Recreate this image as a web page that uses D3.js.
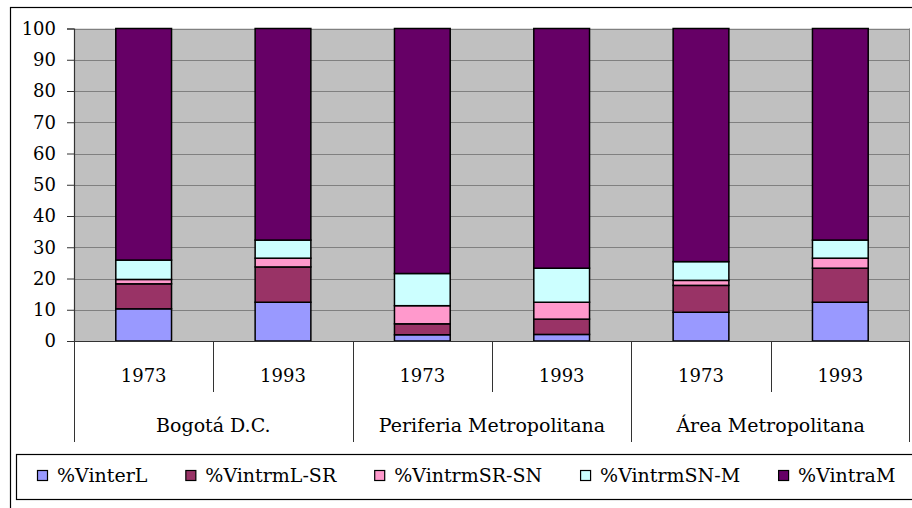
<!DOCTYPE html>
<html>
<head>
<meta charset="utf-8">
<script src="https://cdn.jsdelivr.net/npm/d3@7"></script>
<style>
  html, body { margin: 0; padding: 0; background: #ffffff; }
  svg { display: block; }
  text { font-family: "DejaVu Serif", "Liberation Serif", serif; fill: #000; }
</style>
</head>
<body>
<svg id="chart" width="912" height="508"></svg>
<script>
// Zones and census years
const groups = ["Bogotá D.C.", "Periferia Metropolitana", "Área Metropolitana"];
const years = ["1973", "1993"];

// Series names (legend order = stacking order, bottom to top)
const seriesNames = ["%VinterL", "%VintrmL-SR", "%VintrmSR-SN", "%VintrmSN-M", "%VintraM"];

// Percentages per bar: Bogotá 1973, 1993, Periferia 1973, 1993, Área 1973, 1993
const vinterL    = [10.3, 12.4,  2.0,  2.1,  9.2, 12.4];
const vintrmLSR  = [ 8.0, 11.3,  3.5,  4.9,  8.6, 10.9];
const vintrmSRSN = [ 1.4,  2.8,  5.8,  5.4,  1.6,  3.2];
const vintrmSNM  = [ 6.2,  5.8, 10.3, 10.9,  6.0,  5.8];
const vintraM    = [74.1, 67.7, 78.4, 76.7, 74.6, 67.7];

const yTicks = [0, 10, 20, 30, 40, 50, 60, 70, 80, 90, 100];

const colors = ["#9999ff", "#993366", "#ff99cc", "#ccffff", "#660066"];

// Build rows for the stack layout
const seriesValues = [vinterL, vintrmLSR, vintrmSRSN, vintrmSNM, vintraM];
const rows = [];
groups.forEach((g, gi) => {
  years.forEach((yr, yi) => {
    const idx = gi * years.length + yi;
    const row = { key: g + "|" + yr, group: g, year: yr };
    seriesNames.forEach((s, si) => { row[s] = seriesValues[si][idx]; });
    rows.push(row);
  });
});

const svg = d3.select("#chart");
const plot = { left: 74, right: 910, top: 28.5, bottom: 341 };

// Outer chart frame
svg.append("rect")
  .attr("x", 10.5).attr("y", 7.5)
  .attr("width", 960).attr("height", 560)
  .attr("fill", "#fff").attr("stroke", "#000").attr("stroke-width", 1.2);

const x = d3.scaleBand()
  .domain(rows.map(d => d.key))
  .range([plot.left, plot.right])
  .paddingInner(0.6)
  .paddingOuter(0.3);

const y = d3.scaleLinear().domain([0, 100]).range([plot.bottom, plot.top]);

// Plot area background
svg.append("rect")
  .attr("x", plot.left).attr("y", plot.top)
  .attr("width", plot.right - plot.left).attr("height", plot.bottom - plot.top)
  .attr("fill", "#c0c0c0");

// Gridlines
svg.append("g")
  .selectAll("line")
  .data(yTicks.filter(t => t > 0))
  .join("line")
  .attr("x1", plot.left).attr("x2", plot.right)
  .attr("y1", d => Math.round(y(d)) + 0.5).attr("y2", d => Math.round(y(d)) + 0.5)
  .attr("stroke", "#808080").attr("stroke-width", 1);

// Right edge of plot area
svg.append("line")
  .attr("x1", plot.right - 0.5).attr("x2", plot.right - 0.5)
  .attr("y1", plot.top).attr("y2", plot.bottom)
  .attr("stroke", "#808080");

// Stacked bars
const stack = d3.stack().keys(seriesNames);
const stacked = stack(rows);

svg.append("g")
  .selectAll("g")
  .data(stacked)
  .join("g")
  .attr("fill", (d, i) => colors[i])
  .selectAll("rect")
  .data(d => d)
  .join("rect")
  .attr("x", d => x(d.data.key))
  .attr("width", x.bandwidth())
  .attr("y", d => y(d[1]))
  .attr("height", d => y(d[0]) - y(d[1]))
  .attr("stroke", "#000")
  .attr("stroke-width", 1.5);

// Y axis
const yAxis = d3.axisLeft(y).tickValues(yTicks).tickSize(7).tickPadding(11).tickFormat(d3.format("d"));
const ya = svg.append("g")
  .attr("transform", `translate(${plot.left},0)`)
  .call(yAxis);
ya.select(".domain").attr("stroke", "#333").attr("stroke-width", 1.2);
ya.selectAll(".tick line").attr("stroke", "#333");
ya.selectAll(".tick text")
  .style("font-family", '"DejaVu Serif", serif')
  .style("font-size", "18px")
  .attr("fill", "#000");

// X axis baseline
svg.append("line")
  .attr("x1", plot.left).attr("x2", plot.right)
  .attr("y1", plot.bottom + 0.5).attr("y2", plot.bottom + 0.5)
  .attr("stroke", "#333").attr("stroke-width", 1.2);

// Category boundaries for multi-level axis
const step = x.step();
const catLeft = d => x(d.key) - x.paddingInner() * step / 2;
const yearLevelBottom = 392;
const groupLevelBottom = 442;

// Year dividers (inside groups) and group dividers
rows.forEach((d, i) => {
  const bx = Math.round(catLeft(d)) + 0.5;
  const isGroupStart = i % years.length === 0;
  svg.append("line")
    .attr("x1", bx).attr("x2", bx)
    .attr("y1", plot.bottom).attr("y2", isGroupStart ? groupLevelBottom : yearLevelBottom)
    .attr("stroke", "#333").attr("stroke-width", 1);
});
svg.append("line")
  .attr("x1", plot.right - 0.5).attr("x2", plot.right - 0.5)
  .attr("y1", plot.bottom).attr("y2", groupLevelBottom)
  .attr("stroke", "#333");

// Year labels
svg.append("g")
  .selectAll("text")
  .data(rows)
  .join("text")
  .attr("x", d => x(d.key) + x.bandwidth() / 2)
  .attr("y", 375)
  .attr("text-anchor", "middle")
  .attr("dominant-baseline", "central")
  .style("font-size", "18px")
  .text(d => d.year);

// Group labels
svg.append("g")
  .selectAll("text")
  .data(groups)
  .join("text")
  .attr("x", g => {
    const members = rows.filter(r => r.group === g);
    const a = x(members[0].key), b = x(members[members.length - 1].key) + x.bandwidth();
    return (a + b) / 2;
  })
  .attr("y", 425)
  .attr("text-anchor", "middle")
  .attr("dominant-baseline", "central")
  .style("font-size", "19px")
  .text(g => g);

// Legend
svg.append("rect")
  .attr("x", 16.5).attr("y", 454.5)
  .attr("width", 960).attr("height", 45)
  .attr("fill", "#fff").attr("stroke", "#000").attr("stroke-width", 1.2);

const legend = svg.append("g");
let lx = 37;
seriesNames.forEach((s, i) => {
  legend.append("rect")
    .attr("x", lx + 0.5).attr("y", 470.5)
    .attr("width", 10).attr("height", 10)
    .attr("fill", colors[i]).attr("stroke", "#000").attr("stroke-width", 1.2);
  const t = legend.append("text")
    .attr("x", lx + 20)
    .attr("y", 475)
    .attr("dominant-baseline", "central")
    .style("font-size", "19px")
    .text(s);
  lx += 20 + t.node().getComputedTextLength() + 38;
});
</script>
</body>
</html>
